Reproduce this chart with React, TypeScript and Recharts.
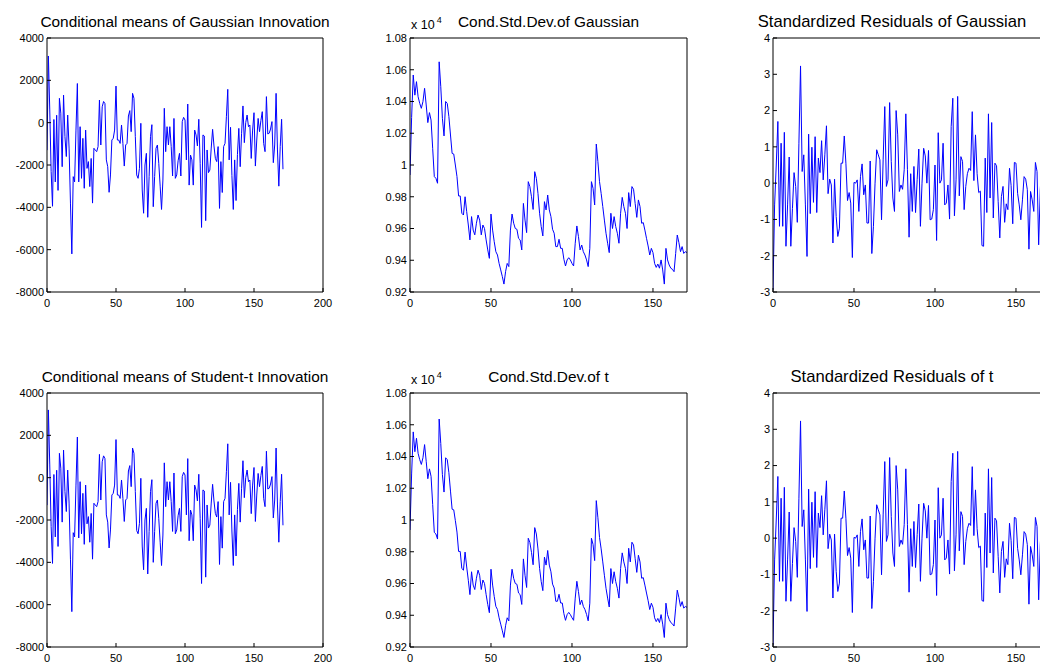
import { LineChart, Line, XAxis, YAxis } from "recharts";

const FONT = "'Liberation Sans', Arial, Helvetica, sans-serif";

// x tick labels
const xTicksWide = [0, 50, 100, 150, 200];
const xTicksNarrow = [0, 50, 100, 150];

// y tick labels
const meanTicks = [-8000, -6000, -4000, -2000, 0, 2000, 4000];
const sdTicks = [9200, 9400, 9600, 9800, 10000, 10200, 10400, 10600, 10800];
const residTicks = [-3, -2, -1, 0, 1, 2, 3, 4];

// conditional means (innovations), Gaussian
const meanGauss = [
  -1300, 3150, 600, -2300, -3950, 150, -2800, 350, -3200, 1150,
  450, -2080, 1300, -660, -1600, 360, -1200, -3800, -6200, -2550,
  -2800, -350, 1850, -2800, -190, -2630, -740, -3100, -350, -2160,
  -1840, -3020, -1690, -3800, -1210, -1300, -1370, -1130, 1070, -1055,
  750, 1000, 900, -1760, -2080, -3290, -2470, -820, -740, -350,
  1730, -820, -820, -980, -110, -980, -2050, -1055, -980, 315,
  570, -425, 1385, 1150, -660, -2470, -2630, -2160, -30, -3180,
  -4280, -2000, -1450, -4470, -2550, -660, -95, -3970, -2550, -1210,
  -1055, -1920, -3000, -4100, -2710, 680, -1370, -190, -1055, -190,
  -1130, -2520, 200, -2630, -2470, -1800, -1450, -2520, 50, 250,
  125, -1760, 880, -2950, -1530, -1760, -2950, -350, -580, -1100,
  160, -1920, -4950, -580, -630, -4630, -1290, -2360, -2240, -1200,
  -315, -1100, -1690, -1840, -1130, -4050, -1840, -3300, -1130, -980,
  280, 1575, -1760, -220, -2500, -4100, -1760, -3680, -1500, -270,
  -2080, -500, 790, -945, 0, 360, -190, -110, -1690, -350,
  470, -2050, -820, 200, -425, 100, 520, -980, -1370, 1230,
  -535, -500, -300, 50, -1890, -1055, 1385, -1290, -3000, -1130,
  160, -2200,
];

// conditional means (innovations), Student-t
const meanT = [
  -1300, 3200, 600, -2300, -4050, 150, -2800, 350, -3250, 1150,
  450, -2100, 1300, -660, -1600, 360, -1200, -3850, -6330, -2600,
  -2800, -350, 1920, -2850, -190, -2650, -740, -3150, -350, -2180,
  -1840, -3050, -1690, -3850, -1210, -1300, -1370, -1130, 1100, -1055,
  750, 1030, 900, -1760, -2100, -3320, -2470, -820, -740, -350,
  1800, -820, -820, -980, -110, -980, -2070, -1055, -980, 315,
  570, -425, 1400, 1150, -660, -2500, -2650, -2160, -30, -3230,
  -4350, -2000, -1450, -4550, -2550, -660, -95, -4000, -2550, -1210,
  -1055, -1940, -3050, -4150, -2710, 700, -1370, -190, -1055, -190,
  -1130, -2540, 220, -2650, -2470, -1800, -1450, -2540, 50, 250,
  125, -1760, 900, -2980, -1530, -1760, -2980, -350, -580, -1100,
  160, -1940, -5000, -580, -630, -4700, -1290, -2380, -2240, -1200,
  -315, -1100, -1690, -1860, -1130, -4100, -1840, -3330, -1130, -980,
  280, 1600, -1760, -220, -2520, -4150, -1760, -3700, -1500, -270,
  -2100, -500, 800, -945, 0, 360, -190, -110, -1700, -350,
  480, -2070, -820, 200, -425, 100, 530, -980, -1370, 1250,
  -535, -500, -300, 50, -1900, -1055, 1400, -1290, -3050, -1130,
  160, -2250,
];

// conditional standard deviation, Gaussian
const sdGauss = [
  9937, 10300, 10567, 10440, 10525, 10430, 10388, 10357, 10400, 10483,
  10378, 10267, 10330, 10283, 10105, 9927, 9916, 9885, 10650, 10493,
  10294, 10183, 10400, 10388, 10305, 10189, 10073, 10069, 10000, 9927,
  9805, 9805, 9696, 9685, 9800, 9706, 9622, 9528, 9675, 9590,
  9560, 9633, 9685, 9653, 9560, 9622, 9600, 9528, 9465, 9412,
  9691, 9590, 9517, 9454, 9433, 9380, 9339, 9297, 9250, 9328,
  9380, 9360, 9590, 9691, 9633, 9600, 9595, 9538, 9528, 9465,
  9758, 9653, 9574, 9895, 9864, 9800, 9720, 9958, 9916, 9821,
  9696, 9612, 9553, 9769, 9717, 9811, 9717, 9675, 9595, 9570,
  9486, 9486, 9532, 9475, 9475, 9406, 9364, 9402, 9416, 9402,
  9380, 9364, 9507, 9616, 9549, 9465, 9496, 9454, 9433, 9402,
  9360, 9475, 9895, 9853, 9748, 10132, 10021, 9895, 9821, 9738,
  9653, 9570, 9507, 9448, 9696, 9600, 9675, 9612, 9570, 9507,
  9696, 9796, 9738, 9696, 9600, 9826, 9738, 9864, 9847, 9758,
  9670, 9780, 9738, 9633, 9637, 9590, 9538, 9490, 9433, 9475,
  9448, 9380, 9355, 9376, 9350, 9402, 9339, 9250, 9475, 9402,
  9370, 9350, 9343, 9328, 9443, 9559, 9511, 9454, 9486, 9443,
  9454, 9448,
];

// conditional standard deviation, Student-t
const sdT = [
  9937, 10290, 10555, 10430, 10515, 10420, 10380, 10350, 10392, 10475,
  10370, 10260, 10322, 10275, 10098, 9922, 9912, 9880, 10636, 10482,
  10286, 10176, 10392, 10380, 10298, 10182, 10068, 10064, 9996, 9924,
  9802, 9802, 9694, 9684, 9798, 9704, 9620, 9530, 9674, 9590,
  9562, 9633, 9684, 9652, 9562, 9622, 9600, 9530, 9468, 9416,
  9690, 9590, 9518, 9456, 9436, 9384, 9344, 9302, 9260, 9334,
  9384, 9364, 9590, 9690, 9632, 9600, 9595, 9540, 9530, 9468,
  9755, 9652, 9575, 9885, 9858, 9796, 9718, 9952, 9912, 9818,
  9695, 9612, 9555, 9766, 9716, 9808, 9716, 9674, 9596, 9572,
  9488, 9488, 9532, 9477, 9477, 9410, 9368, 9404, 9418, 9404,
  9384, 9368, 9508, 9614, 9549, 9467, 9496, 9456, 9436, 9405,
  9365, 9476, 9885, 9846, 9744, 10122, 10014, 9890, 9818, 9736,
  9652, 9570, 9508, 9452, 9694, 9600, 9674, 9612, 9570, 9508,
  9694, 9793, 9736, 9694, 9600, 9822, 9736, 9860, 9843, 9756,
  9670, 9778, 9736, 9633, 9637, 9590, 9540, 9492, 9436, 9476,
  9450, 9384, 9360, 9380, 9354, 9404, 9344, 9260, 9476, 9404,
  9374, 9354, 9346, 9332, 9445, 9558, 9511, 9456, 9486, 9445,
  9455, 9450,
];

// standardized residuals, Gaussian
const residGauss = [
  -2.94, -0.6, 0.5, 1.7, -1.19, 1.1, -1.19, 1.4, -1.74, -0.6,
  0.72, -1.74, -0.7, 0.29, -0.09, -1.08, 1.1, 3.23, 0.32, 0.78,
  -0.6, -2.02, 1.35, -0.84, 0.99, -0.53, 1.28, -0.81, 0.69, 0.29,
  1.17, 0.09, 0.78, 1.58, -0.29, 0.11, -0.05, -1.65, 0.11, -0.92,
  -1.47, -1.24, 0.55, 0.55, 1.3, 0.55, -0.48, -0.26, -0.55, -2.05,
  0.02, 0, 0.09, -0.78, 0.18, 0.53, -0.32, -0.05, -1.1, -1.1,
  0.61, -1.94, -1.19, 0, 0.92, 0.78, 0.64, -1.01, 0.64, 2.11,
  -0.09, 0.09, 2.22, 0.6, -0.41, -0.78, 2.0, 1.33, -0.23, -0.05,
  -0.17, 0.37, 1.91, 0.37, -1.49, 0.26, -0.78, 0.46, -0.81, 0.1,
  0.94, -1.19, 0.0, 0.96, 0.75, 0, 0.9, -1.01, -0.99, -0.73,
  0.5, -1.58, 1.39, 0, 0.09, 1.1, -0.6, -0.55, -0.05, -0.99,
  1.56, 2.34, -0.9, 0.09, 2.39, -0.35, 0.73, 0.6, -0.73, -0.09,
  0.26, 0.41, 0.35, 1.97, 0.07, 1.33, 0.26, -0.26, -0.22, -1.72,
  -1.74, 0.69, -0.81, 1.91, -0.41, 1.67, -0.96, 0.55, 0.48, -0.5,
  -1.51, -0.37, -0.09, -1.08, -0.57, -0.73, 0.41, -0.07, -1.12, 0.57,
  0.55, -0.28, -0.6, -1.01, -0.46, 0.18, 0.11, -0.18, -1.82, -0.23,
  -0.46, -0.78, 0.57, 0.32, -1.7, -0.18, 0.6, -0.4, 0.9, -0.7,
  0.3, -0.2,
];

// standardized residuals, Student-t
const residT = [
  -2.95, -0.6, 0.5, 1.7, -1.19, 1.1, -1.19, 1.4, -1.74, -0.6,
  0.72, -1.74, -0.7, 0.29, -0.09, -1.08, 1.1, 3.23, 0.32, 0.78,
  -0.6, -2.02, 1.35, -0.84, 0.99, -0.53, 1.28, -0.81, 0.69, 0.29,
  1.17, 0.09, 0.78, 1.58, -0.29, 0.11, -0.05, -1.65, 0.11, -0.92,
  -1.47, -1.24, 0.55, 0.55, 1.3, 0.55, -0.48, -0.26, -0.55, -2.05,
  0.02, 0, 0.09, -0.78, 0.18, 0.53, -0.32, -0.05, -1.1, -1.1,
  0.61, -1.94, -1.19, 0, 0.92, 0.78, 0.64, -1.01, 0.64, 2.11,
  -0.09, 0.09, 2.22, 0.6, -0.41, -0.78, 2.0, 1.33, -0.23, -0.05,
  -0.17, 0.37, 1.91, 0.37, -1.49, 0.26, -0.78, 0.46, -0.81, 0.1,
  0.94, -1.19, 0.0, 0.96, 0.75, 0, 0.9, -1.01, -0.99, -0.73,
  0.5, -1.58, 1.39, 0, 0.09, 1.1, -0.6, -0.55, -0.05, -0.99,
  1.56, 2.34, -0.9, 0.09, 2.39, -0.35, 0.73, 0.6, -0.73, -0.09,
  0.26, 0.41, 0.35, 1.97, 0.07, 1.33, 0.26, -0.26, -0.22, -1.72,
  -1.74, 0.69, -0.81, 1.91, -0.41, 1.67, -0.96, 0.55, 0.48, -0.5,
  -1.51, -0.37, -0.09, -1.08, -0.57, -0.73, 0.41, -0.07, -1.12, 0.57,
  0.55, -0.28, -0.6, -1.01, -0.46, 0.18, 0.11, -0.18, -1.82, -0.23,
  -0.46, -0.78, 0.57, 0.32, -1.7, -0.18, 0.6, -0.4, 0.9, -0.7,
  0.3, -0.2,
];

const PH = 254; // plot height
const AXL = 44; // left axis width
const AXT = 6; // top axis height
const AXR = 16; // right axis width, leaves room for the last x label
const AXB = 24;

const tickStyle = { fill: "#000", fontSize: 11, fontFamily: FONT };

type PanelProps = {
  left: number;
  top: number;
  width: number;
  title: string;
  titleCenter?: number;
  titleSize?: number;
  values: number[];
  xMax: number;
  xTicks: number[];
  yDomain: [number, number];
  yTicks: number[];
  yFmt?: (v: number) => string;
  exponent?: boolean;
};

function Panel(p: PanelProps) {
  const data = p.values.map((v, i) => ({ idx: i, v }));
  const center = p.titleCenter ?? p.left + p.width / 2;
  return (
    <>
      <div
        style={{
          position: "absolute",
          left: center - 200,
          width: 400,
          top: p.top - 25,
          textAlign: "center",
          fontFamily: FONT,
          fontSize: p.titleSize ?? 15.4,
          lineHeight: "18px",
          color: "#000",
          whiteSpace: "nowrap",
        }}
      >
        {p.title}
      </div>
      {p.exponent && (
        <div
          style={{
            position: "absolute",
            left: p.left + 1,
            top: p.top - 20,
            fontFamily: FONT,
            fontSize: 12.5,
            lineHeight: "14px",
            color: "#000",
            whiteSpace: "nowrap",
          }}
        >
          x 10<span style={{ fontSize: 9, position: "relative", top: -6, marginLeft: 2 }}>4</span>
        </div>
      )}
      <div style={{ position: "absolute", left: p.left - AXL, top: p.top - AXT }}>
        <LineChart
          width={p.width + AXL + AXR}
          height={PH + AXT + AXB}
          data={data}
          margin={{ top: 0, right: 0, bottom: 0, left: 0 }}
        >
          <XAxis
            xAxisId="b"
            dataKey="idx"
            type="number"
            domain={[0, p.xMax]}
            ticks={p.xTicks}
            interval={0}
            allowDataOverflow
            height={AXB}
            tickSize={-4}
            tickMargin={11}
            stroke="#000"
            tick={tickStyle}
          />
          <XAxis
            xAxisId="t"
            orientation="top"
            dataKey="idx"
            type="number"
            domain={[0, p.xMax]}
            ticks={p.xTicks}
            interval={0}
            allowDataOverflow
            height={AXT}
            tickSize={-4}
            stroke="#000"
            tick={false}
          />
          <YAxis
            yAxisId="l"
            type="number"
            domain={p.yDomain}
            ticks={p.yTicks}
            interval={0}
            allowDataOverflow
            width={AXL}
            tickSize={-4}
            tickMargin={7}
            stroke="#000"
            tick={tickStyle}
            tickFormatter={p.yFmt}
          />
          <YAxis
            yAxisId="r"
            orientation="right"
            type="number"
            domain={p.yDomain}
            ticks={p.yTicks}
            interval={0}
            allowDataOverflow
            width={AXR}
            tickSize={-4}
            stroke="#000"
            tick={false}
          />
          <Line
            xAxisId="t"
            yAxisId="r"
            dataKey="v"
            stroke="none"
            dot={false}
            activeDot={false}
            isAnimationActive={false}
          />
          <Line
            xAxisId="b"
            yAxisId="l"
            dataKey="v"
            type="linear"
            stroke="#0000ff"
            strokeWidth={1}
            dot={false}
            activeDot={false}
            isAnimationActive={false}
          />
        </LineChart>
      </div>
    </>
  );
}

const sdFmt = (v: number) => String(Number((v / 10000).toFixed(2)));

export default function App() {
  const rows = [38, 393];
  return (
    <div
      style={{
        position: "absolute",
        left: 0,
        top: 0,
        width: 1040,
        height: 666,
        overflow: "hidden",
        background: "#fff",
      }}
    >
      <Panel left={47} top={rows[0]} width={276} title="Conditional means of Gaussian Innovation"
        values={meanGauss} xMax={200} xTicks={xTicksWide} yDomain={[-8000, 4000]} yTicks={meanTicks} />
      <Panel left={410} top={rows[0]} width={277} title="Cond.Std.Dev.of Gaussian" exponent
        values={sdGauss} xMax={171} xTicks={xTicksNarrow} yDomain={[9200, 10800]} yTicks={sdTicks} yFmt={sdFmt} />
      <Panel left={773} top={rows[0]} width={277} title="Standardized Residuals of Gaussian" titleCenter={892} titleSize={16.6}
        values={residGauss} xMax={171} xTicks={xTicksNarrow} yDomain={[-3, 4]} yTicks={residTicks} />
      <Panel left={47} top={rows[1]} width={276} title="Conditional means of Student-t Innovation"
        values={meanT} xMax={200} xTicks={xTicksWide} yDomain={[-8000, 4000]} yTicks={meanTicks} />
      <Panel left={410} top={rows[1]} width={277} title="Cond.Std.Dev.of t" exponent
        values={sdT} xMax={171} xTicks={xTicksNarrow} yDomain={[9200, 10800]} yTicks={sdTicks} yFmt={sdFmt} />
      <Panel left={773} top={rows[1]} width={277} title="Standardized Residuals of t" titleCenter={892} titleSize={16.6}
        values={residT} xMax={171} xTicks={xTicksNarrow} yDomain={[-3, 4]} yTicks={residTicks} />
    </div>
  );
}
